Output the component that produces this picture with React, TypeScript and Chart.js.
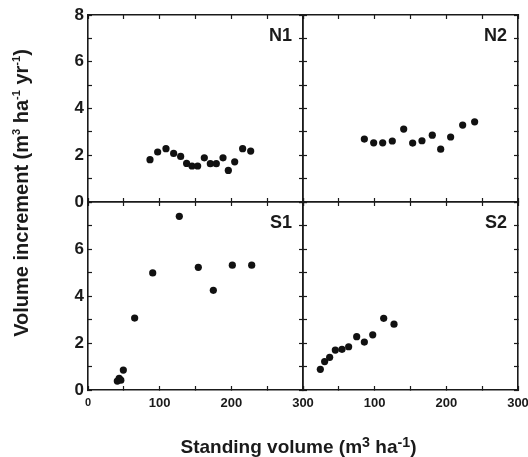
import React, { useEffect, useRef } from 'react';
import { Chart, registerables } from 'chart.js';

Chart.register(...registerables);

// ---- data ----
const X_MIN = 0;
const X_MAX = 300;
const X_STEP = 50;
const Y_MIN = 0;
const Y_MAX = 8;
const Y_STEP = 1;

const n1Volume = [86.5, 97.2, 108.8, 119.5, 129.3, 137.6, 145.1, 153, 162.3, 170.7, 179, 188.4, 195.8, 204.7, 215.8, 227];
const n1Increment = [1.81, 2.14, 2.28, 2.08, 1.95, 1.65, 1.54, 1.54, 1.89, 1.64, 1.64, 1.89, 1.35, 1.72, 2.28, 2.18];

const n2Volume = [85.6, 98.6, 111.2, 124.6, 140.5, 153, 166, 180.4, 192.1, 206, 222.8, 239.5];
const n2Increment = [2.69, 2.53, 2.53, 2.61, 3.12, 2.52, 2.62, 2.86, 2.26, 2.78, 3.29, 3.43];

const s1Volume = [40.9, 43.5, 45.8, 49.3, 65.1, 90.3, 127.4, 153.9, 174.9, 201.4, 228.4];
const s1Increment = [0.38, 0.5, 0.42, 0.85, 3.06, 4.98, 7.39, 5.22, 4.24, 5.31, 5.31];

const s2Volume = [24.2, 30.2, 37.2, 45.1, 54.4, 63.7, 74.9, 85.6, 97.3, 112.6, 127];
const s2Increment = [0.88, 1.21, 1.39, 1.7, 1.73, 1.84, 2.27, 2.04, 2.35, 3.05, 2.8];

const yTicksN1 = [0, 2, 4, 6, 8];
const yTicksS1 = [0, 2, 4, 6];
const xTicksS1 = [0, 100, 200, 300];
const xTicksS2 = [100, 200, 300];

const W = 528;
const H = 457;
const AXIS_BAND = 40;
const FONT = "'Liberation Sans', Arial, Helvetica, sans-serif";
const INK = '#1a1a1a';

type PanelCfg = {
  name: string;
  xs: number[];
  ys: number[];
  box: { left: number; top: number; right: number; bottom: number };
  yLabels: number[];
  xLabels: number[];
};

const panels: PanelCfg[] = [
  { name: 'N1', xs: n1Volume, ys: n1Increment, box: { left: 88, top: 15, right: 303, bottom: 202 }, yLabels: yTicksN1, xLabels: [] },
  { name: 'N2', xs: n2Volume, ys: n2Increment, box: { left: 303, top: 15, right: 518, bottom: 202 }, yLabels: [], xLabels: [] },
  { name: 'S1', xs: s1Volume, ys: s1Increment, box: { left: 88, top: 202, right: 303, bottom: 390 }, yLabels: yTicksS1, xLabels: xTicksS1 },
  { name: 'S2', xs: s2Volume, ys: s2Increment, box: { left: 303, top: 202, right: 518, bottom: 390 }, yLabels: [], xLabels: xTicksS2 },
];

const fixFit = (size: number) => (s: any) => {
  if (s.isHorizontal()) s.height = size;
  else s.width = size;
  s.paddingLeft = 0;
  s.paddingRight = 0;
  s.paddingTop = 0;
  s.paddingBottom = 0;
};

const gridOpts = {
  drawOnChartArea: false,
  drawTicks: true,
  tickLength: -4,
  tickColor: INK,
  tickWidth: 1.2,
};
const borderOpts = { display: true, color: INK, width: 1.6 };

function makeConfig(p: PanelCfg): any {
  return {
    type: 'scatter',
    data: {
      datasets: [
        {
          data: p.xs.map((x, i) => ({ x, y: p.ys[i] })),
          pointRadius: 3.6,
          pointBackgroundColor: '#111',
          pointBorderWidth: 0,
          pointHoverRadius: 3.6,
          clip: false,
        },
      ],
    },
    options: {
      responsive: false,
      animation: false,
      events: [],
      layout: {
        autoPadding: false,
        padding: {
          left: p.box.left - AXIS_BAND,
          top: p.box.top,
          right: W - p.box.right,
          bottom: H - p.box.bottom - AXIS_BAND,
        },
      },
      plugins: { legend: { display: false }, tooltip: { enabled: false }, title: { display: false } },
      scales: {
        x: {
          type: 'linear',
          position: 'bottom',
          min: X_MIN,
          max: X_MAX,
          afterFit: fixFit(AXIS_BAND),
          grid: gridOpts,
          border: borderOpts,
          ticks: {
            stepSize: X_STEP,
            autoSkip: false,
            maxRotation: 0,
            minRotation: 0,
            padding: 10,
            color: INK,
            font: (ctx: any) => ({ family: FONT, weight: 'bold', size: ctx.tick && ctx.tick.value === 0 ? 11 : 13 }),
            callback: (v: any) => (p.xLabels.includes(Number(v)) ? String(v) : ''),
          },
        },
        x2: {
          type: 'linear',
          position: 'top',
          min: X_MIN,
          max: X_MAX,
          afterFit: fixFit(0),
          grid: gridOpts,
          border: borderOpts,
          ticks: { stepSize: X_STEP, autoSkip: false, maxRotation: 0, display: false },
        },
        y: {
          type: 'linear',
          position: 'left',
          min: Y_MIN,
          max: Y_MAX,
          afterFit: fixFit(AXIS_BAND),
          grid: gridOpts,
          border: borderOpts,
          ticks: {
            stepSize: Y_STEP,
            autoSkip: false,
            padding: 8,
            color: INK,
            font: { family: FONT, weight: 'bold', size: 17 },
            callback: (v: any) => (p.yLabels.includes(Number(v)) ? String(v) : ''),
          },
        },
        y2: {
          type: 'linear',
          position: 'right',
          min: Y_MIN,
          max: Y_MAX,
          afterFit: fixFit(0),
          grid: gridOpts,
          border: borderOpts,
          ticks: { stepSize: Y_STEP, autoSkip: false, display: false },
        },
      },
    },
  };
}

function PanelCanvas({ cfg }: { cfg: PanelCfg }) {
  const ref = useRef<HTMLCanvasElement | null>(null);
  useEffect(() => {
    if (!ref.current) return;
    const chart = new Chart(ref.current, makeConfig(cfg));
    return () => chart.destroy();
  }, [cfg]);
  return (
    <canvas
      ref={ref}
      width={W}
      height={H}
      style={{ position: 'absolute', left: 0, top: 0, width: W, height: H }}
    />
  );
}

const supSmall: React.CSSProperties = { fontSize: '0.55em', verticalAlign: '0.75em', lineHeight: 0 };
const supBig: React.CSSProperties = { fontSize: '0.75em', verticalAlign: '0.45em', lineHeight: 0 };

export default function App() {
  return (
    <div style={{ position: 'absolute', left: 0, top: 0, width: W, height: H, background: '#fff', overflow: 'hidden' }}>
      {panels.map((p) => (
        <PanelCanvas key={p.name} cfg={p} />
      ))}
      {panels.map((p) => (
        <div
          key={'lbl' + p.name}
          style={{
            position: 'absolute',
            left: p.box.right - 11 - 100,
            top: p.box.top + 10.5,
            width: 100,
            textAlign: 'right',
            fontFamily: FONT,
            fontWeight: 'bold',
            fontSize: 18,
            lineHeight: '18px',
            color: INK,
          }}
        >
          {p.name}
        </div>
      ))}
      <div
        style={{
          position: 'absolute',
          left: 21 - 200,
          top: 193 - 12,
          width: 400,
          height: 24,
          lineHeight: '24px',
          textAlign: 'center',
          transform: 'rotate(-90deg)',
          fontFamily: FONT,
          fontWeight: 'bold',
          fontSize: 20,
          color: INK,
          whiteSpace: 'nowrap',
        }}
      >
        Volume increment (m<span style={supSmall}>3</span> ha<span style={supSmall}>-1</span> yr<span style={supSmall}>-1</span>)
      </div>
      <div
        style={{
          position: 'absolute',
          left: 298.5 - 200,
          top: 446.5 - 12,
          width: 400,
          height: 24,
          lineHeight: '24px',
          textAlign: 'center',
          fontFamily: FONT,
          fontWeight: 'bold',
          fontSize: 19,
          color: INK,
          whiteSpace: 'nowrap',
        }}
      >
        Standing volume (m<span style={supBig}>3</span> ha<span style={supBig}>-1</span>)
      </div>
    </div>
  );
}
